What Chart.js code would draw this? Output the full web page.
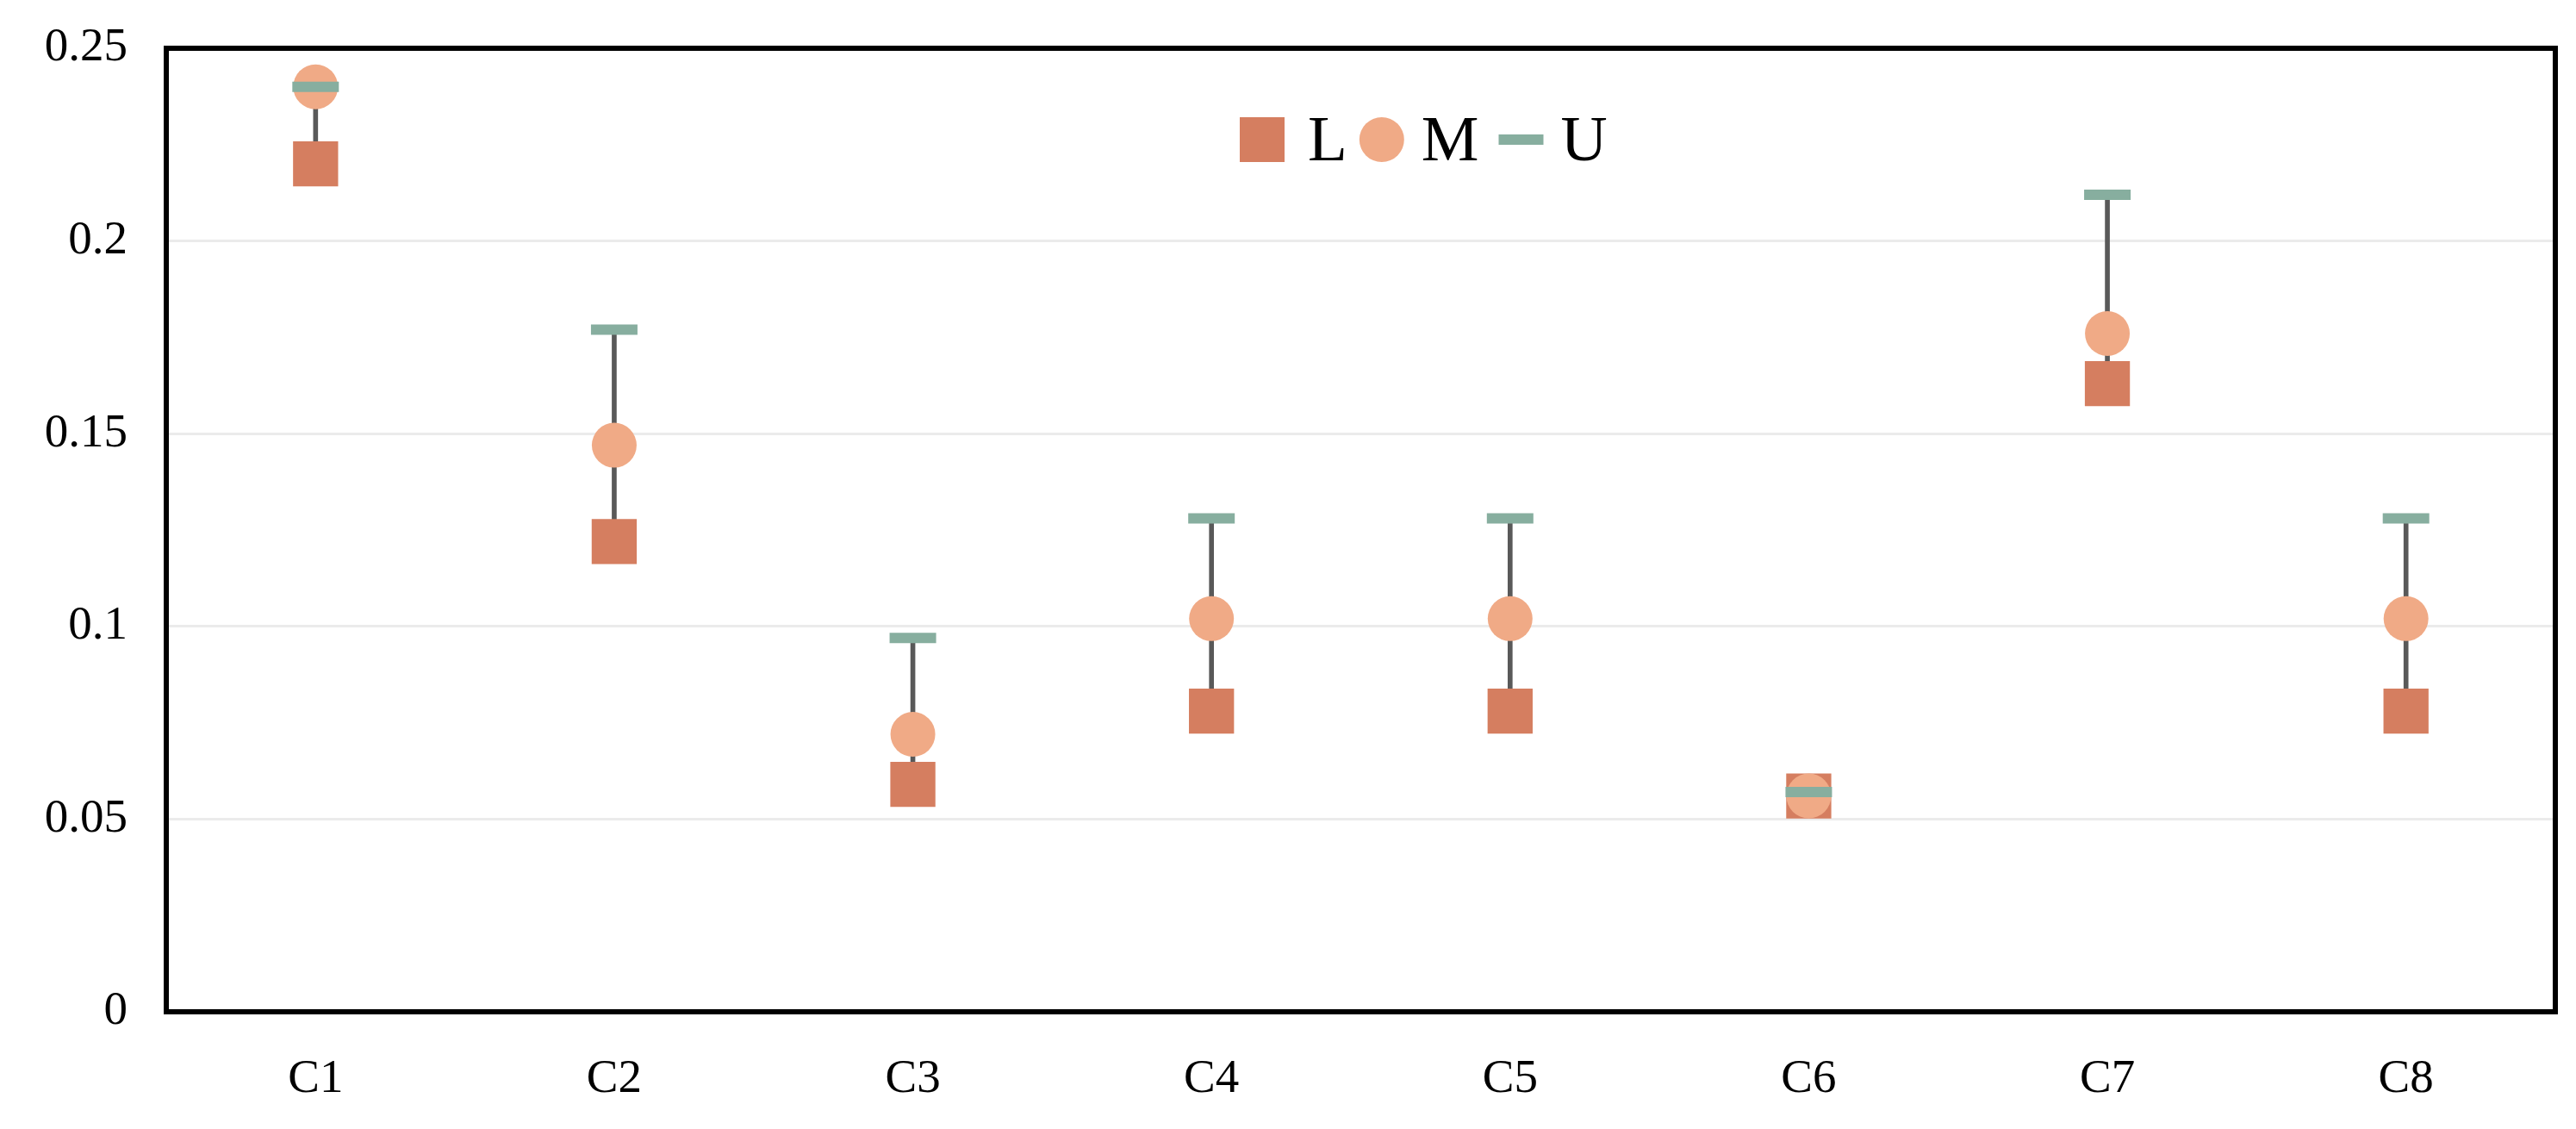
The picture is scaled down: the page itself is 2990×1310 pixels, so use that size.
<!DOCTYPE html>
<html>
<head>
<meta charset="utf-8">
<script src="https://cdn.jsdelivr.net/npm/chart.js@4/dist/chart.umd.min.js"></script>
<style>
  html, body { margin: 0; padding: 0; background: #fff; }
  #wrap { width: 2990px; height: 1310px; }
</style>
</head>
<body>
<div id="wrap"><canvas id="myChart" width="2990" height="1310"></canvas></div>
<script>
const categories = ["C1", "C2", "C3", "C4", "C5", "C6", "C7", "C8"];
const lowerValues = [0.22, 0.122, 0.059, 0.078, 0.078, 0.056, 0.163, 0.078];
const middleValues = [0.24, 0.147, 0.072, 0.102, 0.102, 0.056, 0.176, 0.102];
const upperValues = [0.24, 0.177, 0.097, 0.128, 0.128, 0.057, 0.212, 0.128];
const yTicks = [0, 0.05, 0.1, 0.15, 0.2, 0.25];
const seriesNames = ["L", "M", "U"];

const colorL = "#d57e60";
const colorM = "#f0aa86";
const colorU = "#87ae9f";
const fontName = "'Liberation Serif', 'Times New Roman', serif";

// range bar from L to U
const rangeData = lowerValues.map((v, i) => [v, upperValues[i]]);

// box around the plot area
const frameBox = {
  id: "frameBox",
  afterDatasetsDraw(chart) {
    const { ctx, chartArea } = chart;
    ctx.save();
    ctx.strokeStyle = "#000";
    ctx.lineWidth = 6;
    ctx.strokeRect(chartArea.left, chartArea.top, chartArea.right - chartArea.left, chartArea.bottom - chartArea.top);
    ctx.restore();
  },
};

// legend drawn inside the plot, near the top
const insideLegend = {
  id: "insideLegend",
  afterDraw(chart) {
    const { ctx } = chart;
    ctx.save();
    ctx.font = "75px " + fontName;
    ctx.textBaseline = "middle";
    ctx.fillStyle = "#000";
    let x = 1439;
    const cy = 162;
    const size = 52;
    // L
    ctx.fillStyle = colorL;
    ctx.fillRect(x, cy - size / 2, size, size);
    x += size + 27;
    ctx.fillStyle = "#000";
    ctx.fillText(seriesNames[0], x, cy + 4);
    x += ctx.measureText(seriesNames[0]).width + 14;
    // M
    ctx.fillStyle = colorM;
    ctx.beginPath();
    ctx.arc(x + size / 2, cy, size / 2, 0, Math.PI * 2);
    ctx.fill();
    x += size + 20;
    ctx.fillStyle = "#000";
    ctx.fillText(seriesNames[1], x, cy + 4);
    x += ctx.measureText(seriesNames[1]).width + 23;
    // U
    ctx.fillStyle = colorU;
    ctx.fillRect(x, cy - 6, size, 12);
    x += size + 20;
    ctx.fillStyle = "#000";
    ctx.fillText(seriesNames[2], x, cy + 4);
    ctx.restore();
  },
};

const ctx = document.getElementById("myChart").getContext("2d");
const myChart = new Chart(ctx, {
  data: {
    labels: categories,
    datasets: [
      {
        type: "bar",
        label: "range",
        data: rangeData,
        backgroundColor: "#595959",
        barThickness: 5,
        order: 10,
      },
      {
        type: "line",
        label: seriesNames[0],
        data: lowerValues,
        showLine: false,
        pointStyle: "rect",
        pointRadius: 37,
        pointBackgroundColor: colorL,
        pointBorderWidth: 0,
        order: 3,
      },
      {
        type: "line",
        label: seriesNames[1],
        data: middleValues,
        showLine: false,
        pointStyle: "circle",
        pointRadius: 26,
        pointBackgroundColor: colorM,
        pointBorderWidth: 0,
        order: 2,
      },
      {
        type: "line",
        label: seriesNames[2],
        data: upperValues,
        showLine: false,
        pointStyle: "line",
        pointRadius: 27,
        pointBorderColor: colorU,
        pointBorderWidth: 12,
        order: 1,
      },
    ],
  },
  options: {
    responsive: false,
    animation: false,
    events: [],
    layout: {
      autoPadding: false,
      padding: { top: 56, right: 24, left: 0, bottom: 0 },
    },
    plugins: {
      legend: { display: false },
      tooltip: { enabled: false },
    },
    scales: {
      x: {
        type: "category",
        offset: true,
        grid: { display: false, drawTicks: false },
        border: { display: false },
        ticks: {
          color: "#000",
          padding: 46,
          font: { family: fontName, size: 55 },
        },
        afterFit(scale) {
          scale.height = 136;
          scale.paddingLeft = 0;
          scale.paddingRight = 0;
        },
      },
      y: {
        min: 0,
        max: 0.25,
        grid: { color: "#ebebeb", lineWidth: 3, drawTicks: false },
        border: { display: false },
        ticks: {
          color: "#000",
          padding: 45,
          font: { family: fontName, size: 55 },
          callback: (value) => String(value),
        },
        afterBuildTicks(scale) {
          scale.ticks = yTicks.map((v) => ({ value: v }));
        },
        afterFit(scale) {
          scale.width = 193;
          scale.paddingTop = 0;
          scale.paddingBottom = 0;
        },
      },
    },
  },
  plugins: [frameBox, insideLegend],
});
</script>
</body>
</html>
